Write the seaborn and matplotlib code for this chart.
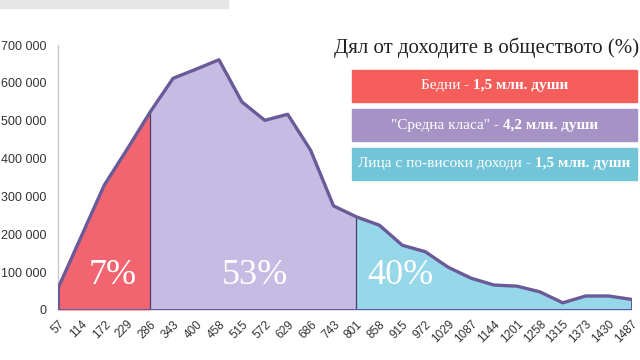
import numpy as np
import pandas as pd
import matplotlib
matplotlib.use("Agg")
import matplotlib.pyplot as plt
import seaborn as sns
from matplotlib.offsetbox import TextArea, HPacker, AnnotationBbox
from matplotlib.patches import Rectangle

categories = ["57", "114", "172", "229", "286", "343", "400", "458", "515", "572",
              "629", "686", "743", "801", "858", "915", "972", "1029", "1087", "1144",
              "1201", "1258", "1315", "1373", "1430", "1487"]
values = [60000, 195000, 330000, 425000, 523000, 612000, 636000, 661000, 550000, 501000,
          517000, 422000, 275000, 246000, 224000, 171000, 154000, 113000, 84000, 66000,
          63000, 48000, 19000, 37000, 37000, 28000]
yticks = [0, 100000, 200000, 300000, 400000, 500000, 600000, 700000]
group_bounds = [0, 4, 13, 25]
group_pct = ["7%", "53%", "40%"]
title = "Дял от доходите в обществото (%)"
legend_plain = ["Бедни ", "\"Средна класа\" ", "Лица с по-високи доходи "]
legend_bold = ["- 1,5 млн. души", "- 4,2 млн. души", "- 1,5 млн. души"]

fill_colors = ["#f2646f", "#c6bce3", "#96d7e9"]
box_colors = ["#f65e5c", "#a693c6", "#72c4d9"]
line_color = "#6a5a98"
serif = "Liberation Serif"

sns.set_theme(style="white")
plt.rcParams["font.family"] = ["Liberation Sans", "DejaVu Sans"]

df = pd.DataFrame({"x": np.arange(len(categories)), "y": values})

fig = plt.figure(figsize=(6.4, 3.6), dpi=100)
ax = fig.add_axes([58 / 640, 50 / 360, (632 - 58) / 640, 265 / 360])

x = df["x"].to_numpy()
y = df["y"].to_numpy()
for i in range(3):
    a, b = group_bounds[i], group_bounds[i + 1]
    ax.fill_between(x[a:b + 1], 0, y[a:b + 1], color=fill_colors[i], lw=0, zorder=1)
    if i > 0:
        ax.plot([x[a], x[a]], [0, y[a]], color="#4a3f6a", lw=0.9, zorder=2)

sns.lineplot(data=df, x="x", y="y", ax=ax, color=line_color, lw=2.4, zorder=3)
ax.plot([x[0], x[0], x[-1], x[-1]], [y[0], 0, 0, y[-1]], color=line_color, lw=2.2, zorder=3)

centers = [2.35, 8.58, 14.9]
for i, t in enumerate(group_pct):
    ax.text(centers[i], 68000, t, color="white", fontsize=26,
            family=serif, ha="center", va="baseline", zorder=4)

ax.set_xlim(-0.02, 25.02)
ax.set_ylim(0, 700000)
ax.set_xticks(x)
ax.set_xticklabels(categories, rotation=45, ha="right", rotation_mode="anchor",
                   fontsize=8.5, color="#333333")
ax.set_yticks(yticks)
ax.set_yticklabels([f"{v:,}".replace(",", " ") for v in yticks], fontsize=9, color="#333333")
ax.tick_params(axis="both", length=0)
ax.tick_params(axis="y", pad=8.5)
ax.tick_params(axis="x", pad=6)
ax.set_xlabel("")
ax.set_ylabel("")
for s in ["top", "right", "bottom"]:
    ax.spines[s].set_visible(False)
ax.spines["left"].set_color("#c8c8c8")
ax.spines["left"].set_linewidth(1)

# title and legend boxes (figure pixel coordinates)
fig.text(487 / 640, 1 - 48 / 360, title, fontsize=15, family=serif,
         color="#222222", ha="center", va="center")
box_tops = [70, 109, 148]
for i in range(3):
    fig.patches.append(Rectangle((352 / 640, 1 - (box_tops[i] + 32) / 360), 285 / 640, 32 / 360,
                                 transform=fig.transFigure, color=box_colors[i], zorder=5))
    ta = TextArea(legend_plain[i], textprops=dict(color="white", fontsize=11, family=serif))
    tb = TextArea(legend_bold[i], textprops=dict(color="white", fontsize=11, family=serif,
                                                 weight="bold"))
    pack = HPacker(children=[ta, tb], pad=0, sep=0, align="baseline")
    ab = AnnotationBbox(pack, (494.5 / 640, 1 - (box_tops[i] + 16) / 360), xycoords="figure fraction",
                        frameon=False, box_alignment=(0.5, 0.5), zorder=6)
    fig.add_artist(ab)

# grey screenshot strip at top-left
fig.patches.append(Rectangle((0, 1 - 8 / 360), 228 / 640, 8 / 360, transform=fig.transFigure,
                             color="#e6e6e6", zorder=0))

fig.savefig("out.png", dpi=100)
